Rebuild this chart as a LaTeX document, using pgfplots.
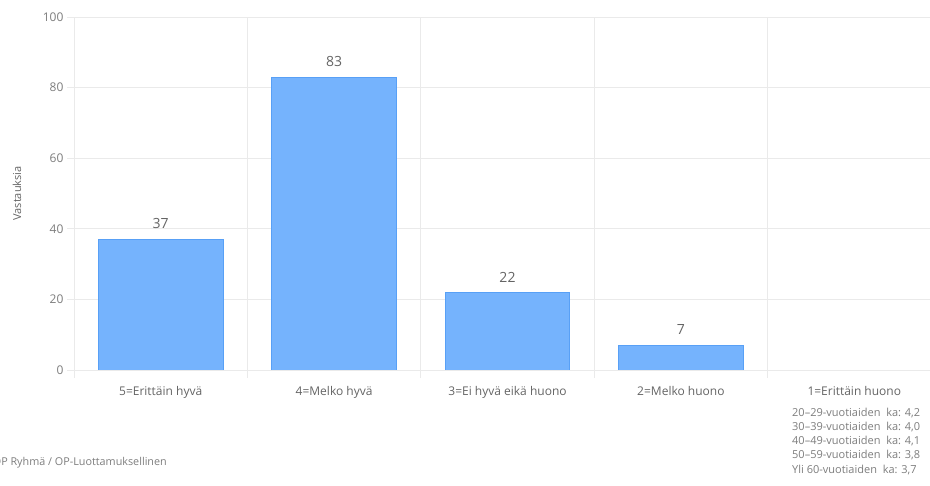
\documentclass[border=0pt]{standalone}
\usepackage{pgfplots}
\pgfplotsset{compat=1.18}
\usepackage{fontspec}
\setmainfont{Open Sans}

\definecolor{barfill}{RGB}{117,179,253}
\definecolor{barline}{RGB}{88,160,246}
\definecolor{gridgray}{RGB}{234,234,234}
\definecolor{basegray}{RGB}{204,204,204}
\definecolor{labelgray}{RGB}{100,100,100}
\definecolor{tickgray}{RGB}{125,125,125}

\begin{document}
\begin{tikzpicture}[x=1pt,y=1pt]
\useasboundingbox (0,0) rectangle (930,486);
\clip (0,0) rectangle (930,486);
\begin{axis}[
  at={(74pt,116pt)}, anchor=south west,
  scale only axis, width=867pt, height=353pt,
  xmin=-0.5, xmax=4.5, ymin=0, ymax=100,
  axis line style={draw=none},
  xtick={0,1,2,3,4},
  xticklabels={5=Erittäin hyvä,4=Melko hyvä,3=Ei hyvä eikä huono,2=Melko huono,1=Erittäin huono},
  minor xtick={-0.5,0.5,1.5,2.5,3.5,4.5},
  ytick={0,20,...,100},
  xtick pos=bottom, ytick pos=left,
  tick align=outside,
  major tick length=7pt, minor tick length=8pt,
  xtick style={draw=none},
  minor x tick style={draw=gridgray, line width=0.8pt},
  ytick style={draw=gridgray, line width=0.8pt},
  xminorgrids=true, ymajorgrids=true,
  minor x grid style={draw=gridgray, line width=0.8pt},
  y grid style={draw=gridgray, line width=0.8pt},
  extra y ticks={0}, extra y tick labels={},
  extra y tick style={grid style={draw=basegray, line width=0.9pt}, major tick length=0pt},
  /pgf/number format/assume math mode=true,
  xticklabel style={font=\fontsize{12}{14}\selectfont, text=labelgray, yshift=-6pt},
  yticklabel style={font=\fontsize{12}{14}\selectfont, text=tickgray},
  ylabel={Vastauksia},
  every axis y label/.style={at={(rel axis cs:0,0.5)}, xshift=-57pt, rotate=90, anchor=center,
    font=\fontsize{11}{13}\selectfont, text=labelgray},
  nodes near coords,
  every node near coord/.append style={font=\fontsize{14}{16}\selectfont, text=labelgray, yshift=6.5pt},
]
\addplot[ybar, bar width=0.72, fill=barfill, draw=barline, line width=0.9pt]
  coordinates {(0,37) (1,83) (2,22) (3,7)};
\end{axis}
\node[anchor=east, inner sep=0pt, font=\fontsize{10.8}{12}\selectfont, text=tickgray] at (167,23) {OP Ryhmä / OP-Luottamuksellinen};
\begin{scope}[every node/.style={anchor=base west, inner sep=0pt, font=\fontsize{11}{12}\selectfont, text=tickgray}]
\node at (792,69) {20–29-vuotiaiden\ \ ka: 4,2};
\node at (792,55) {30–39-vuotiaiden\ \ ka: 4,0};
\node at (792,41) {40–49-vuotiaiden\ \ ka: 4,1};
\node at (792,27) {50–59-vuotiaiden\ \ ka: 3,8};
\node at (792,12) {Yli 60-vuotiaiden\ \ ka: 3,7};
\end{scope}
\end{tikzpicture}
\end{document}
